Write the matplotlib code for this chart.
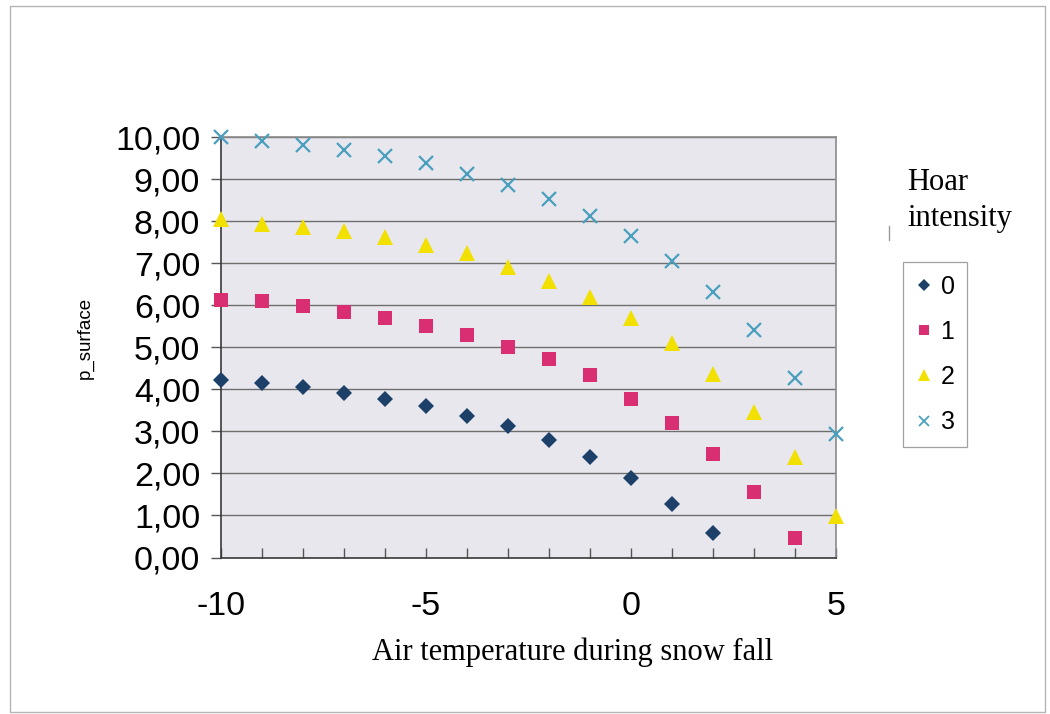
import matplotlib.pyplot as plt
from matplotlib.lines import Line2D
from matplotlib.patches import Rectangle
from matplotlib.ticker import FuncFormatter

# air temperature during snow fall (deg C)
temp = [-10, -9, -8, -7, -6, -5, -4, -3, -2, -1, 0, 1, 2, 3, 4, 5]

# p_surface for each hoar intensity class
p_hoar0 = [4.21, 4.16, 4.05, 3.92, 3.77, 3.61, 3.37, 3.12, 2.79, 2.39, 1.90, 1.27, 0.58]
p_hoar1 = [6.13, 6.09, 5.99, 5.85, 5.69, 5.50, 5.30, 5.01, 4.72, 4.33, 3.77, 3.19, 2.46, 1.56, 0.47]
p_hoar2 = [8.05, 7.94, 7.86, 7.76, 7.62, 7.42, 7.23, 6.92, 6.58, 6.19, 5.69, 5.11, 4.36, 3.47, 2.39, 0.99]
p_hoar3 = [10.00, 9.90, 9.82, 9.70, 9.56, 9.37, 9.13, 8.87, 8.53, 8.13, 7.64, 7.04, 6.31, 5.42, 4.28, 2.94]

labels = ['0', '1', '2', '3']
series = [p_hoar0, p_hoar1, p_hoar2, p_hoar3]

styles = [
    dict(marker='D', color='#1d4068', ms=8, mew=0),
    dict(marker='s', color='#d92e72', ms=10.5, mew=0),
    dict(marker='^', color='#f2e000', ms=11.5, mew=0),
    dict(marker='x', color='#4a9fbf', ms=10, mew=1.6),
]

fig = plt.figure(figsize=(10.5, 7.14), dpi=100)
ax = fig.add_axes([221 / 1050, 1 - 557.5 / 714, 615 / 1050, 420.5 / 714])
ax.set_facecolor('#e7e7ed')

for vals, st in zip(series, styles):
    ax.plot(temp[:len(vals)], vals, linestyle='none', clip_on=False, zorder=3, **st)

ax.set_xlim(-10, 5)
ax.set_ylim(0, 10)
ax.set_xticks(range(-10, 6))
ax.set_xticklabels([str(t) if t % 5 == 0 else '' for t in range(-10, 6)])
ax.set_yticks(range(0, 11))
ax.yaxis.set_major_formatter(FuncFormatter(lambda v, p: f'{v:.2f}'.replace('.', ',')))

ax.grid(axis='y', color='#6e6e6e', lw=1)
ax.set_axisbelow(True)
ax.tick_params(axis='x', direction='in', length=7, width=1, color='#555555',
               labelsize=24.5, pad=24)
ax.tick_params(axis='y', direction='out', length=7, width=1, color='#555555',
               labelsize=24.5, pad=8)
for lab in ax.get_xticklabels() + ax.get_yticklabels():
    lab.set_fontfamily('Liberation Sans')

for side in ['left', 'bottom']:
    ax.spines[side].set_color('#3a3a3a')
    ax.spines[side].set_linewidth(1.2)
for side in ['top', 'right']:
    ax.spines[side].set_color('#8a8a8a')
    ax.spines[side].set_linewidth(1.2)

fig.text(85 / 1050, 1 - 338 / 714, 'p_surface', rotation=90, ha='center', va='center',
         fontsize=13.5, family='Liberation Sans')
fig.text(573 / 1050, 1 - 652 / 714, 'Air temperature during snow fall', ha='center',
         va='center', fontsize=22, family='Liberation Serif')

# legend title sits above the legend frame
fig.text(907 / 1050, 1 - 168 / 714, 'Hoar\nintensity', ha='left', va='top',
         fontsize=22, family='Liberation Serif', linespacing=1.3)
fig.lines.append(Line2D([889 / 1050, 889 / 1050], [1 - 226 / 714, 1 - 240 / 714],
                        transform=fig.transFigure, color='#9a9a9a', lw=1))

handles = [Line2D([], [], linestyle='none', marker=st['marker'], color=st['color'],
                  ms=st['ms'] * 0.75, mew=st['mew'] * 0.8) for st in styles]
leg = fig.legend(handles, labels, loc='upper left', bbox_to_anchor=(903 / 1050, 1 - 262 / 714),
                 prop={'family': 'Liberation Sans', 'size': 18}, frameon=True, fancybox=False,
                 edgecolor='#8a8a8a', borderaxespad=0, borderpad=0.5, labelspacing=0.85,
                 handlelength=0.7, handletextpad=0.3)
leg.get_frame().set_linewidth(0.9)

# outer chart border
fig.patches.append(Rectangle((10 / 1050, 1 - 712 / 714), 1035 / 1050, 706 / 714,
                             transform=fig.transFigure, fill=False, edgecolor='#b5b5b5',
                             lw=1))

fig.savefig('out.png', dpi=100)
